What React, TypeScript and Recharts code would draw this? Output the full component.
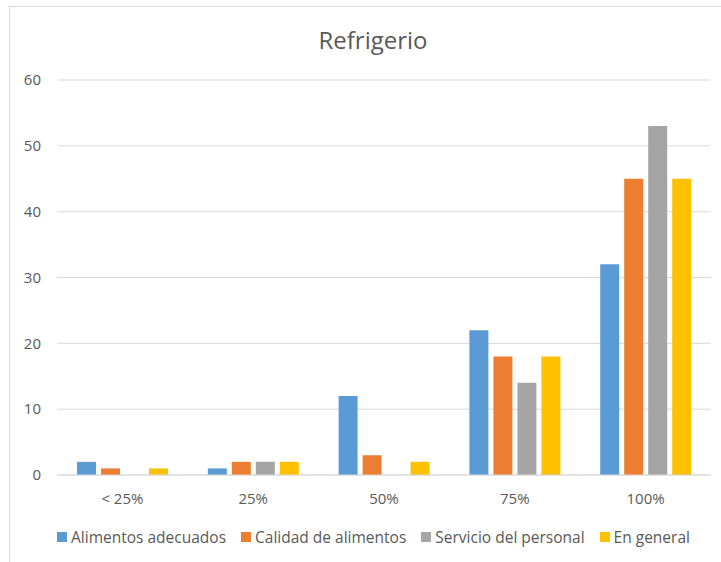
import { Bar, BarChart, CartesianGrid, Legend, XAxis, YAxis } from "recharts"

const categories = ["< 25%", "25%", "50%", "75%", "100%"]
const alimentosAdecuados = [2, 1, 12, 22, 32]
const calidadAlimentos = [1, 2, 3, 18, 45]
const servicioPersonal = [0, 2, 0, 14, 53]
const enGeneral = [1, 2, 2, 18, 45]
const yTicks = [0, 10, 20, 30, 40, 50, 60]

const series = [
  { key: "a", name: "Alimentos adecuados", color: "#5B9BD5" },
  { key: "b", name: "Calidad de alimentos", color: "#ED7D31" },
  { key: "c", name: "Servicio del personal", color: "#A5A5A5" },
  { key: "d", name: "En general", color: "#FFC000" },
]

const data = categories.map((name, i) => ({
  name,
  a: alimentosAdecuados[i],
  b: calidadAlimentos[i],
  c: servicioPersonal[i],
  d: enGeneral[i],
}))

const font = "'Open Sans', 'Noto Sans', sans-serif"
const textColor = "#595959"

function LegendContent() {
  return (
    <div style={{ display: "flex", justifyContent: "center", gap: 15, fontFamily: font, fontSize: 15.5, color: textColor, whiteSpace: "nowrap" }}>
      {series.map(s => (
        <div key={s.key} style={{ display: "flex", alignItems: "center" }}>
          <span style={{ width: 10, height: 10, background: s.color, display: "inline-block", marginRight: 4 }} />
          {s.name}
        </div>
      ))}
    </div>
  )
}

export default function App() {
  return (
    <div style={{ position: "absolute", left: 9, top: 6, width: 760, height: 600, border: "1px solid #d9d9d9", background: "#fff" }}>
      <div style={{ position: "absolute", left: 0, top: 16, width: 726, textAlign: "center", fontFamily: font, fontSize: 24, color: textColor }}>
        Refrigerio
      </div>
      <BarChart
        width={711}
        height={555}
        data={data}
        margin={{ top: 73, right: 10, bottom: 0, left: 0 }}
        barGap={5}
        barSize={19}
      >
        <CartesianGrid vertical={false} stroke="#d9d9d9" />
        <XAxis
          dataKey="name"
          height={87}
          tickSize={0}
          tickMargin={18}
          axisLine={{ stroke: "#d9d9d9" }}
          tickLine={false}
          tick={{ fill: textColor, fontSize: 15, fontFamily: font }}
        />
        <YAxis
          width={47}
          domain={[0, 60]}
          ticks={yTicks}
          tickSize={0}
          tickMargin={16}
          axisLine={false}
          tickLine={false}
          tick={{ fill: textColor, fontSize: 15, fontFamily: font }}
        />
        <Legend
          verticalAlign="middle"
          align="center"
          layout="horizontal"
          content={<LegendContent />}
          wrapperStyle={{ top: 519, left: 8, width: 711 }}
        />
        {series.map(s => (
          <Bar key={s.key} dataKey={s.key} name={s.name} fill={s.color} isAnimationActive={false} />
        ))}
      </BarChart>
    </div>
  )
}
